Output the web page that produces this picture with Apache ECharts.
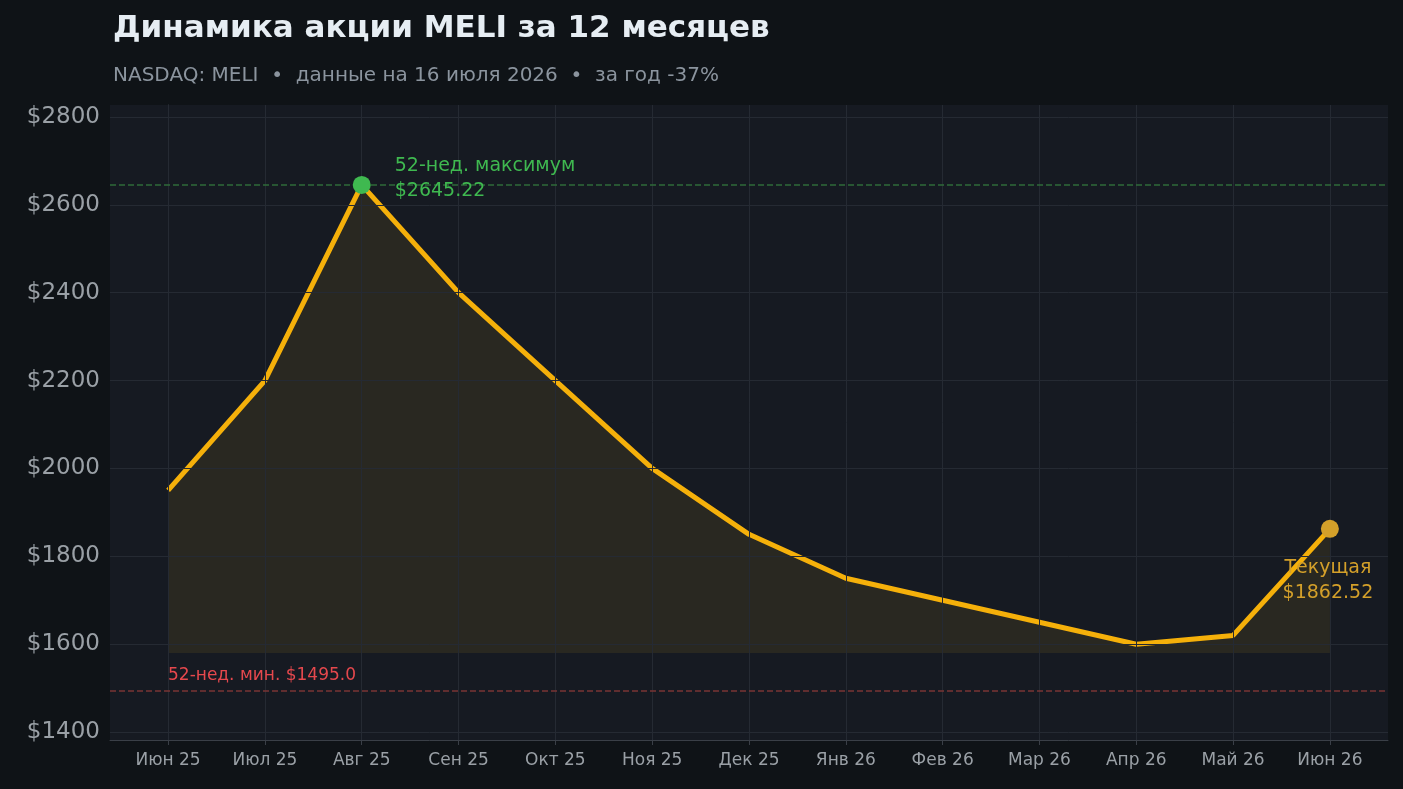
<!DOCTYPE html>
<html><head><meta charset="utf-8">
<script src="https://cdn.jsdelivr.net/npm/echarts@6/dist/echarts.min.js"></script>
<style>html,body{margin:0;background:#0f1317}#c{width:1403px;height:789px}</style>
</head><body><div id="c"></div>
<script>
const months = ['Июн 25','Июл 25','Авг 25','Сен 25','Окт 25','Ноя 25','Дек 25','Янв 26','Фев 26','Мар 26','Апр 26','Май 26','Июн 26'];
const prices = [1950,2200,2645.22,2400,2200,2000,1850,1750,1700,1650,1600,1620,1862.52];
const high52 = 2645.22, low52 = 1495.0, current = 1862.52;
const yTicks = [1400,1600,1800,2000,2200,2400,2600,2800];
const xIdx = months.map((m,i)=>i);
const chart = echarts.init(document.getElementById('c'));
const ff = 'DejaVu Sans';
const grid = {color:'#252a33',type:'solid',width:1};
chart.setOption({
  backgroundColor:'#0f1317',
  textStyle:{fontFamily:ff},
  title:{text:'Динамика акции MELI за 12 месяцев',left:108,top:8,
    textStyle:{color:'#e6edf3',fontSize:31,fontWeight:'bold',fontFamily:ff},
    subtext:'NASDAQ: MELI  •  данные на 16 июля 2026  •  за год -37%',itemGap:22,
    subtextStyle:{color:'#8b949e',fontSize:20,fontFamily:ff}},
  grid:{left:110,right:15,top:105,bottom:49,show:true,backgroundColor:'#161a22',borderWidth:0},
  xAxis:{type:'value',min:-0.6,max:12.6,
    axisLine:{show:true,lineStyle:{color:'#3a3f47'}},
    axisTick:{show:true,customValues:xIdx,lineStyle:{color:'#3a3f47'}},
    axisLabel:{customValues:xIdx,color:'#9aa0a6',fontSize:17,margin:12,formatter:v=>months[Math.round(v)]||''},
    splitLine:{show:false}},
  yAxis:{type:'value',min:1382,max:2827,
    axisLine:{show:true,lineStyle:{color:'#3a3f47'}},
    axisTick:{show:true,customValues:yTicks,lineStyle:{color:'#3a3f47'}},
    axisLabel:{customValues:yTicks,color:'#9aa0a6',fontSize:23,margin:10,formatter:v=>'$'+v},
    splitLine:{show:false}},
  series:[{
    type:'line',data:[],z:1,
    markLine:{silent:true,symbol:'none',animation:false,label:{show:false},
      data:[
        ...yTicks.map(t=>({yAxis:t,lineStyle:grid})),
        ...xIdx.map(t=>({xAxis:t,lineStyle:grid})),
        {yAxis:high52,lineStyle:{color:'#2f6b3a',type:'dashed',width:1.5}},
        {yAxis:low52,lineStyle:{color:'#7a3535',type:'dashed',width:1.5},
          label:{show:true,position:'insideStartTop',formatter:'52-нед. мин. $1495.0',color:'#e5484d',fontSize:17,distance:[58,6]}}
      ]}
  },{
    type:'line',data:prices.map((p,i)=>[i,p]),z:3,
    lineStyle:{color:'#f5b00a',width:5},showSymbol:false,symbol:'none',
    areaStyle:{origin:1580,color:'rgba(120,100,30,0.28)'},
    markPoint:{animation:false,data:[
      {coord:[2,high52],symbol:'circle',symbolSize:18,itemStyle:{color:'#3fb950'},
        label:{show:true,position:'right',distance:24,offset:[0,-6],formatter:'52-нед. максимум\n$2645.22',color:'#3fb950',fontSize:19,lineHeight:25,align:'left'}},
      {coord:[12,current],symbol:'circle',symbolSize:18,itemStyle:{color:'#d4a02a'},
        label:{show:true,position:'bottom',distance:18,offset:[-2,0],formatter:'Текущая\n$1862.52',color:'#d4a02a',fontSize:19,lineHeight:25,align:'center'}}
    ]}
  }]
});
</script></body></html>
